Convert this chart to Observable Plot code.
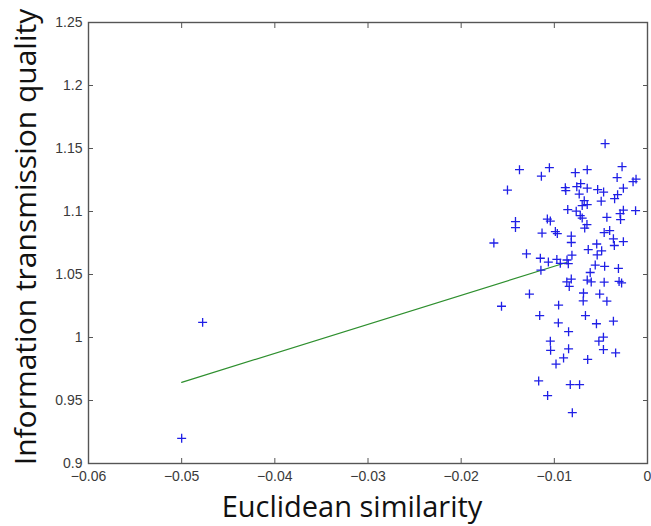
<!DOCTYPE html>
<html>
<head>
<meta charset="utf-8">
<script src="https://cdn.jsdelivr.net/npm/d3@7"></script>
<script src="https://cdn.jsdelivr.net/npm/@observablehq/plot@0.6"></script>
<style>
  html, body { margin: 0; padding: 0; background: #fff; }
  #chart svg { display: block; }
</style>
</head>
<body>
<div id="chart"></div>
<script>
// Euclidean similarity (x) of each observation
const similarity = [
  -0.00455, -0.01374, -0.01053, -0.01139, -0.00775, -0.00647, -0.00273, -0.00326, -0.00155, -0.00123,
  -0.01503, -0.00882, -0.00877, -0.00759, -0.00717, -0.00647, -0.00535, -0.00471, -0.00259, -0.00733,
  -0.00679, -0.00497, -0.00353, -0.00321, -0.00701, -0.00647, -0.00856, -0.00765, -0.00259, -0.00128,
  -0.00294, -0.00722, -0.00701, -0.01417, -0.01417, -0.01075, -0.01043, -0.00436, -0.00289, -0.00650,
  -0.00674, -0.01132, -0.00989, -0.00968, -0.00818, -0.00465, -0.00406, -0.01649, -0.00818, -0.00545,
  -0.00366, -0.00356, -0.00259, -0.01299, -0.00811, -0.00636, -0.00492, -0.00540, -0.01150, -0.01064,
  -0.00973, -0.00936, -0.00864, -0.00850, -0.01144, -0.00561, -0.00460, -0.00312, -0.00615, -0.00866,
  -0.00818, -0.00840, -0.00647, -0.00604, -0.00465, -0.00305, -0.00278, -0.01267, -0.00687, -0.00690,
  -0.00513, -0.00436, -0.01567, -0.00954, -0.01157, -0.00666, -0.00957, -0.00548, -0.00366, -0.00847,
  -0.01043, -0.01040, -0.00847, -0.00522, -0.00473, -0.00473, -0.00342, -0.00901, -0.00982, -0.00642,
  -0.01168, -0.00829, -0.00729, -0.01072, -0.00807, -0.04775, -0.05000
];
// Information transmission quality (y) of each observation
const quality = [
  1.1538, 1.1332, 1.1348, 1.1280, 1.1308, 1.1332, 1.1356, 1.1269, 1.1237, 1.1257,
  1.1170, 1.1189, 1.1166, 1.1197, 1.1221, 1.1185, 1.1174, 1.1154, 1.1185, 1.1138,
  1.1086, 1.1082, 1.1102, 1.1134, 1.1047, 1.1055, 1.1015, 1.1003, 1.1011, 1.1007,
  1.0983, 1.0968, 1.0948, 1.0920, 1.0872, 1.0940, 1.0924, 1.0954, 1.0936, 1.0896,
  1.0868, 1.0829, 1.0841, 1.0825, 1.0805, 1.0833, 1.0849, 1.0750, 1.0754, 1.0742,
  1.0783, 1.0730, 1.0761, 1.0664, 1.0653, 1.0698, 1.0688, 1.0655, 1.0629, 1.0599,
  1.0620, 1.0589, 1.0615, 1.0586, 1.0534, 1.0575, 1.0565, 1.0548, 1.0516, 1.0441,
  1.0464, 1.0405, 1.0456, 1.0441, 1.0439, 1.0445, 1.0433, 1.0345, 1.0353, 1.0290,
  1.0345, 1.0288, 1.0248, 1.0257, 1.0174, 1.0174, 1.0116, 1.0109, 1.0130, 1.0046,
  0.9971, 0.9898, 0.9910, 0.9971, 1.0003, 0.9904, 0.9878, 0.9838, 0.9789, 0.9826,
  0.9655, 0.9626, 0.9626, 0.9539, 0.9403, 1.0120, 0.9200
];
// Fitted regression line end points
const fitX = [-0.05, -0.0087];
const fitY = [0.9644, 1.0595];

// Axis ticks and their labels
const xTicks = [-0.06, -0.05, -0.04, -0.03, -0.02, -0.01, 0];
const xTickLabels = ["\u22120.06", "\u22120.05", "\u22120.04", "\u22120.03", "\u22120.02", "\u22120.01", "0"];
const yTicks = [0.9, 0.95, 1, 1.05, 1.1, 1.15, 1.2, 1.25];
const yTickLabels = ["0.9", "0.95", "1", "1.05", "1.1", "1.15", "1.2", "1.25"];

const xTitle = "Euclidean similarity";
const yTitle = "Information transmission quality";

const points = similarity.map((x, i) => ({x, y: quality[i]}));
const fit = fitX.map((x, i) => ({x, y: fitY[i]}));

const tickFont = {fontSize: 14, fill: "#3a3a3a", fontFamily: "Liberation Sans, Arial, sans-serif"};

const chart = Plot.plot({
  width: 651,
  height: 526,
  marginLeft: 88,
  marginRight: 4,
  marginTop: 22,
  marginBottom: 63,
  style: {fontFamily: "Liberation Sans, Arial, sans-serif", background: "#fff"},
  x: {domain: [-0.06, 0]},
  y: {domain: [0.9, 1.25]},
  marks: [
    Plot.frame({stroke: "#555", strokeWidth: 1.4}),
    Plot.axisX({anchor: "bottom", ticks: xTicks, tickSize: -5, tickPadding: 13, stroke: "#555",
      tickFormat: (d, i) => xTickLabels[i], label: null, ...tickFont}),
    Plot.axisX({anchor: "top", ticks: xTicks, tickSize: -5, stroke: "#555", tickFormat: () => "", label: null}),
    Plot.axisY({anchor: "left", ticks: yTicks, tickSize: -5, tickPadding: 11, stroke: "#555",
      tickFormat: (d, i) => yTickLabels[i], label: null, ...tickFont}),
    Plot.axisY({anchor: "right", ticks: yTicks, tickSize: -5, stroke: "#555", tickFormat: () => "", label: null}),
    Plot.line(fit, {x: "x", y: "y", stroke: "#2e8f2e", strokeWidth: 1.2}),
    Plot.dot(points, {x: "x", y: "y", symbol: "plus", r: 3, stroke: "#1f1fe6", strokeWidth: 1.3}),
    Plot.text([xTitle], {frameAnchor: "bottom", dy: 44, dx: -16, lineAnchor: "middle", textAnchor: "middle",
      fontSize: 29, fill: "#111", fontFamily: "Open Sans, sans-serif"}),
    Plot.text([yTitle], {frameAnchor: "left", rotate: -90, dx: -62, dy: -6, lineAnchor: "middle", textAnchor: "middle",
      fontSize: 30, fill: "#111", fontFamily: "Open Sans, sans-serif"})
  ]
});
document.getElementById("chart").appendChild(chart);
</script>
</body>
</html>
